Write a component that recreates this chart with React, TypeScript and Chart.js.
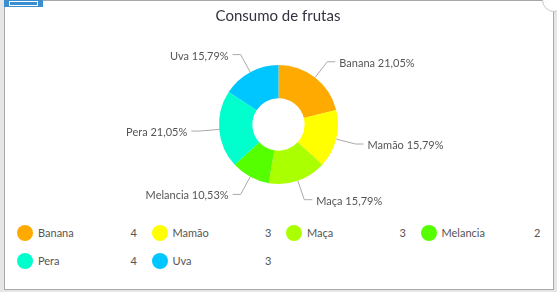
import React, { useEffect, useRef } from "react";
import { Chart, registerables } from "chart.js";

Chart.register(...registerables);

const TITLE = "Consumo de frutas";
const categories = ["Banana", "Mamão", "Maça", "Melancia", "Pera", "Uva"];
const values = [4, 3, 3, 2, 4, 3];
const colors = ["#FFAA00", "#FFFF00", "#AAFF00", "#55FF00", "#00FFCC", "#00C6FF"];

const FONT = "Lato, 'Open Sans', sans-serif";
const TEXT = "#555555";

function fmtPct(v: number, total: number) {
  return ((v / total) * 100).toFixed(2).replace(".", ",") + "%";
}

const labelPlugin = {
  id: "outerLabels",
  afterDraw(chart: any) {
    const ctx = chart.ctx;
    const meta = chart.getDatasetMeta(0);
    const data = chart.data.datasets[0].data as number[];
    const total = data.reduce((a, b) => a + b, 0);
    ctx.save();
    // title
    ctx.font = `15px ${FONT}`;
    ctx.fillStyle = "#333340";
    ctx.textAlign = "center";
    ctx.textBaseline = "middle";
    ctx.fillText(TITLE, 278, 16);

    ctx.font = `11px ${FONT}`;
    ctx.lineWidth = 1;
    ctx.strokeStyle = "#aaaaaa";
    meta.data.forEach((arc: any, i: number) => {
      const p = arc.getProps(["x", "y", "startAngle", "endAngle", "outerRadius"], true);
      const mid = (p.startAngle + p.endAngle) / 2;
      const c = Math.cos(mid);
      const s = Math.sin(mid);
      const x0 = p.x + p.outerRadius * c;
      const y0 = p.y + p.outerRadius * s;
      const x1 = p.x + (p.outerRadius + 20) * c;
      const y1 = p.y + (p.outerRadius + 20) * s;
      const dir = c >= 0 ? 1 : -1;
      const x2 = x1 + dir * 8;
      ctx.beginPath();
      ctx.moveTo(x0, y0);
      ctx.lineTo(x1, y1);
      ctx.lineTo(x2, y1);
      ctx.stroke();
      ctx.fillStyle = TEXT;
      ctx.textAlign = dir > 0 ? "left" : "right";
      ctx.textBaseline = "middle";
      ctx.fillText(`${chart.data.labels[i]} ${fmtPct(data[i], total)}`, x2 + dir * 4, y1 + 1.5);
    });
    ctx.restore();
  },
};

function App() {
  const ref = useRef<HTMLCanvasElement | null>(null);

  useEffect(() => {
    if (!ref.current) return;
    const chart = new Chart(ref.current, {
      type: "doughnut",
      data: {
        labels: categories,
        datasets: [
          {
            data: values,
            backgroundColor: colors,
            borderWidth: 0,
            hoverOffset: 0,
          },
        ],
      },
      options: {
        responsive: false,
        animation: false,
        devicePixelRatio: 1,
        cutout: "44%",
        layout: { padding: { top: 65, bottom: 31, left: 0, right: 0 } },
        plugins: {
          legend: { display: false },
          title: { display: false },
          tooltip: { enabled: false },
        },
      },
      plugins: [labelPlugin],
    });
    return () => chart.destroy();
  }, []);

  const colX = [17, 151.5, 286, 420.5];
  const rowY = [232.5, 260.5];

  return (
    <div
      style={{
        position: "fixed",
        left: 0,
        top: 0,
        width: 557,
        height: 292,
        background: "#e6e6e6",
        overflow: "hidden",
      }}
    >
      <div
        style={{
          position: "absolute",
          left: 4,
          top: 0,
          width: 548,
          height: 288,
          border: "1px solid #a8a8a8",
          background: "#ffffff",
        }}
      />
      <div
        style={{
          position: "absolute",
          left: 4,
          top: 0,
          width: 39,
          height: 7,
          background: "#3a8fd3",
        }}
      >
        <div
          style={{
            position: "absolute",
            left: 5,
            top: 1,
            width: 27,
            height: 3,
            border: "1px solid #ffffff",
          }}
        />
      </div>
      <div
        style={{
          position: "absolute",
          left: 542,
          top: -12,
          width: 22,
          height: 22,
          borderRadius: "50%",
          border: "1px solid #c8c8c8",
          background: "#ffffff",
        }}
      />
      <canvas
        ref={ref}
        width={557}
        height={215}
        style={{ position: "absolute", left: 0, top: 0, width: 557, height: 215 }}
      />
      {categories.map((name, i) => {
        const cx = colX[i % 4];
        const cy = rowY[Math.floor(i / 4)];
        return (
          <div
            key={name}
            style={{
              position: "absolute",
              left: cx,
              top: cy - 8,
              width: 120,
              height: 16,
              fontFamily: FONT,
              fontSize: 11,
              color: TEXT,
              lineHeight: "16px",
            }}
          >
            <div
              style={{
                position: "absolute",
                left: 0,
                top: 0,
                width: 16,
                height: 16,
                borderRadius: "50%",
                background: colors[i],
              }}
            />
            <span style={{ position: "absolute", left: 21, top: 0 }}>{name}</span>
            <span style={{ position: "absolute", right: 0, top: 0 }}>{values[i]}</span>
          </div>
        );
      })}
    </div>
  );
}

export default App;
